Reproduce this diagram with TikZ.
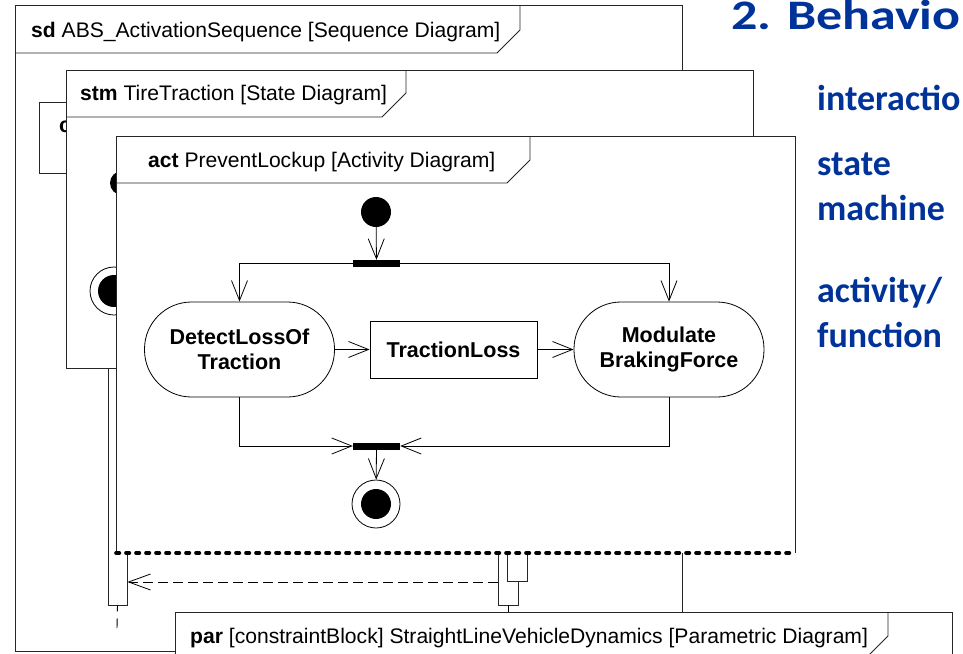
\documentclass[tikz,border=0pt]{standalone}
\usepackage{fontspec}
\setmainfont{Liberation Sans}
\newfontfamily\slidefont{Carlito}
\usetikzlibrary{arrows.meta}
\definecolor{slideblue}{RGB}{0,51,153}
\tikzset{
  frameline/.style={draw=black!85, line width=0.8pt},
  framebox/.style={frameline, fill=white},
  hdr/.style={anchor=base west, inner sep=0pt, font=\fontsize{21.1}{24}\selectfont},
  actnode/.style={draw, line width=0.8pt, fill=white, rectangle, rounded corners=47pt,
    minimum width=190pt, minimum height=95pt, align=center, inner sep=0pt,
    font=\fontsize{21.5}{25}\selectfont\bfseries},
  objnode/.style={draw, line width=0.8pt, fill=white, minimum width=167pt, minimum height=57pt,
    inner sep=0pt, font=\fontsize{21.5}{25}\selectfont\bfseries},
  bar/.style={fill=black, minimum width=47pt, minimum height=7pt, inner sep=0pt},
  dot/.style={circle, fill=black, inner sep=0pt},
  flow/.style={line width=0.8pt, -{Straight Barb[length=20pt, width=16pt, line width=0.8pt]}},
  actbar/.style={draw=black!85, line width=0.8pt, fill=white, inner sep=0pt, minimum width=19pt},
  msg/.style={line width=0.9pt, dash pattern=on 10pt off 5pt,
    -{Straight Barb[length=22pt, width=16pt, line width=0.8pt]}},
  slide/.style={anchor=base west, inner sep=0pt, text=slideblue,
    font=\slidefont\bfseries\fontsize{36}{45}\selectfont},
}
\begin{document}
\begin{tikzpicture}[x=1pt, y=-1pt]
\useasboundingbox (0,0) rectangle (963,653);
\clip (0,0) rectangle (963,653);
\fill[white] (0,0) rectangle (963,653);

% ---- sd frame (back layer)
\draw[framebox] (15,5) rectangle (682,651);
\draw[frameline] (15,53) -- (497,53) -- (520,30) -- (520,5);
\node[hdr] (sdtitle) at (31,37) {\textbf{sd} ABS\_ActivationSequence [Sequence Diagram]};

% left lifeline head and its activation bar
\draw[framebox] (39,102) rectangle (200,173);
\node[hdr, font=\fontsize{21.5}{25}\selectfont\bfseries] (headtext) at (59,132) {c};
\node[actbar, minimum height=405pt] (lbar) at (117.5,402.5) {};
\coordinate (ltail) at (117,628);
\draw[line width=0.9pt, dash pattern=on 6pt off 7pt on 12pt off 3pt] (lbar.south) -- (ltail);

% ---- stm frame
\draw[framebox] (66,70) rectangle (753,368);
\draw[frameline] (66,117) -- (382,117) -- (406,93) -- (406,70);
\node[hdr] (stmtitle) at (80,100) {\textbf{stm} TireTraction [State Diagram]};
\node[dot, minimum size=24pt] (stinit) at (122,183) {};
\node[circle, draw, line width=0.8pt, fill=white, minimum size=48pt, inner sep=0pt] (stfinal) at (114,291) {};
\node[dot, minimum size=32pt] (stfinalin) at (stfinal.center) {};

% right lifeline activations
\node[actbar, minimum width=20pt, minimum height=75pt] (rbar) at (508,567.5) {};
\node[actbar, minimum width=20pt, minimum height=51pt] (rbarin) at (517,555.5) {};
\coordinate (rlife) at (508,612);
\draw[line width=0.8pt] (rbar.south) -- (rlife);

% ---- act frame
\fill[white] (116,136) rectangle (795,553);
\draw[frameline] (116,553) -- (116,136) -- (795,136) -- (795,553);
\draw[line width=3.6pt, line cap=round, dash pattern=on 3.4pt off 6.6pt] (116,553) -- (795,553);
\draw[frameline] (116,183) -- (507,183) -- (530,160) -- (530,136);
\node[hdr] (acttitle) at (148,167) {\textbf{act} PreventLockup [Activity Diagram]};

% activity content
\node[dot, minimum size=30pt] (init) at (376,212) {};
\node[bar] (fork) at (376.5,263.5) {};
\node[actnode] (detect) at (239.5,349.5) {DetectLossOf\\Traction};
\node[objnode] (loss) at (453.5,349.5) {TractionLoss};
\node[actnode] (modulate) at (669,349.5) {Modulate\\BrakingForce};
\node[bar] (join) at (376.5,446) {};
\node[circle, draw, line width=0.8pt, fill=white, minimum size=48pt, inner sep=0pt] (final) at (376,504) {};
\node[dot, minimum size=30pt] (finalin) at (final.center) {};

\draw[flow] (init) -- (fork);
\draw[flow] (fork.west) -| (detect.north);
\draw[flow] (fork.east) -| (modulate.north);
\draw[flow] (detect) -- (loss);
\draw[flow] (loss) -- (modulate);
\draw[flow] (detect.south) |- (join.west);
\draw[flow] (modulate.south) |- (join.east);
\draw[flow] (join) -- (final);

% reply message
\coordinate (msgy) at (0,582);
\draw[msg] (rbar.west |- msgy) -- (lbar.east |- msgy);

% ---- par frame
\draw[framebox] (175,612) rectangle (952,700);
\draw[frameline] (175,660) -- (864,660) -- (888,636) -- (888,612);
\node[hdr] (partitle) at (190,643) {\textbf{par} [constraintBlock] StraightLineVehicleDynamics [Parametric Diagram]};

% ---- slide text
\node[anchor=base west, inner sep=0pt, text=slideblue,
  font=\slidefont\bfseries\fontsize{40}{48}\selectfont] (heading) at (731,29) {\scalebox{1.3}[1.05]{2. Behavio}};
\node[slide] (kind1) at (817,110) {interactio};
\node[slide] (kind2) at (817,175) {state};
\node[slide] (kind3) at (817,220) {machine};
\node[slide] (kind4) at (817,302) {activity/};
\node[slide] (kind5) at (817,347) {function};
\end{tikzpicture}
\end{document}
